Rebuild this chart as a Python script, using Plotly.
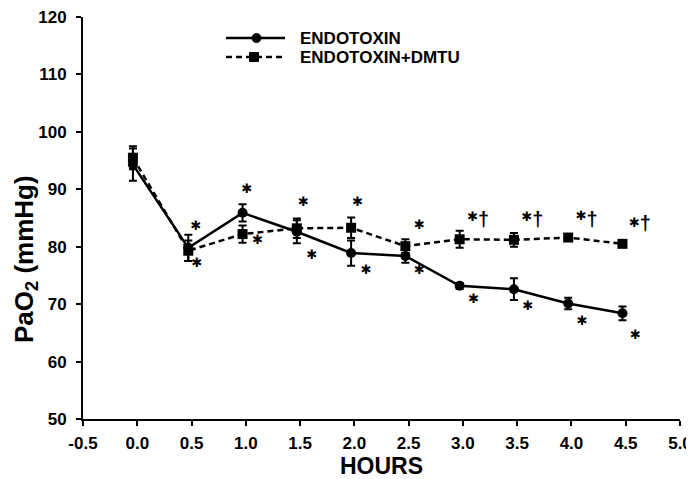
import plotly.graph_objects as go

# ---- data ----
hours = [-0.04, 0.47, 0.97, 1.47, 1.97, 2.47, 2.97, 3.47, 3.97, 4.47]
endotoxin = [94.3, 79.8, 85.9, 82.6, 78.9, 78.4, 73.2, 72.6, 70.1, 68.4]
endotoxin_err = [2.8, 2.3, 1.5, 2.0, 2.2, 1.2, 0.5, 1.9, 1.0, 1.2]
dmtu = [95.5, 79.3, 82.2, 83.2, 83.3, 80.1, 81.3, 81.2, 81.6, 80.5]
dmtu_err = [2.0, 1.8, 1.5, 1.7, 1.8, 1.2, 1.5, 1.2, 0.4, 0.4]

# significance markers (asterisks) and daggers
star_x = [0.54, 0.55, 1.01, 1.11, 1.53, 1.61, 2.03, 2.11, 2.60, 2.60,
          3.09, 3.10, 3.59, 3.60, 4.09, 4.10, 4.58, 4.59]
star_y = [83.5, 77.0, 90.0, 81.0, 87.6, 78.4, 87.7, 75.9, 83.7, 75.9,
          85.0, 70.7, 85.0, 69.5, 85.2, 66.9, 84.0, 64.5]
dag_x = [3.19, 3.69, 4.19, 4.68]
dag_y = [84.4, 84.4, 84.5, 83.7]

x_ticks = [-0.5, 0.0, 0.5, 1.0, 1.5, 2.0, 2.5, 3.0, 3.5, 4.0, 4.5, 5.0]
y_ticks = [50, 60, 70, 80, 90, 100, 110, 120]
series_names = ["ENDOTOXIN", "ENDOTOXIN+DMTU"]
x_title = "HOURS"
y_title = "PaO<sub>2</sub> (mmHg)"

FONT = "Liberation Sans, Arial, sans-serif"

fig = go.Figure()
fig.add_trace(go.Scatter(
    x=hours, y=dmtu, name=series_names[1], mode="lines+markers",
    line=dict(color="black", width=2.5, dash="6px,4px"),
    marker=dict(symbol="square", size=10, color="black"),
    error_y=dict(type="data", array=dmtu_err, color="black", thickness=2, width=4),
    showlegend=False))
fig.add_trace(go.Scatter(
    x=hours, y=endotoxin, name=series_names[0], mode="lines+markers",
    line=dict(color="black", width=2.5),
    marker=dict(symbol="circle", size=10, color="black"),
    error_y=dict(type="data", array=endotoxin_err, color="black", thickness=2, width=4),
    showlegend=False))
fig.add_trace(go.Scatter(
    x=star_x, y=star_y, mode="text", text=["✱"] * len(star_x),
    textfont=dict(family="DejaVu Sans", size=13, color="black"),
    showlegend=False, hoverinfo="skip"))
fig.add_trace(go.Scatter(
    x=dag_x, y=dag_y, mode="text", text=["†"] * len(dag_x),
    textfont=dict(family=FONT, size=20, color="black", weight="bold"),
    showlegend=False, hoverinfo="skip"))

# ---- layout geometry in screen pixels (page has an 8px body margin) ----
OFF = 8
W, H = 694, 479
L, R, T, B = 83, 680, 17, 419  # plot area edges on screen
def px(x):
    return (x - L) / (R - L)
def py(y):
    return (B - y) / (B - T)

shapes = [
    dict(type="line", xref="paper", yref="paper", x0=px(226), x1=px(285), y0=py(38), y1=py(38),
         line=dict(color="black", width=2.5)),
    dict(type="line", xref="paper", yref="paper", x0=px(226), x1=px(285), y0=py(57), y1=py(57),
         line=dict(color="black", width=2.5, dash="6px,4px")),
    dict(type="circle", xref="paper", yref="paper", x0=px(252), x1=px(261), y0=py(42.5), y1=py(33.5),
         fillcolor="black", line=dict(color="black", width=1)),
    dict(type="rect", xref="paper", yref="paper", x0=px(249.5), x1=px(258.5), y0=py(61.5), y1=py(52.5),
         fillcolor="black", line=dict(color="black", width=1)),
]
annotations = [
    dict(xref="paper", yref="paper", x=px(298), y=py(38), text=series_names[0], showarrow=False,
         xanchor="left", yanchor="middle", font=dict(family=FONT, size=17, color="black", weight="bold")),
    dict(xref="paper", yref="paper", x=px(298), y=py(57), text=series_names[1], showarrow=False,
         xanchor="left", yanchor="middle", font=dict(family=FONT, size=17, color="black", weight="bold")),
    dict(xref="paper", yref="paper", x=px(25), y=py(259), text=y_title, showarrow=False, textangle=-90,
         xanchor="center", yanchor="middle", font=dict(family=FONT, size=26, color="black", weight="bold")),
]

fig.update_layout(
    width=W - OFF, height=H - OFF,
    margin=dict(l=L - OFF, r=W - R, t=T - OFF, b=H - B, autoexpand=False),
    paper_bgcolor="white", plot_bgcolor="white",
    shapes=shapes, annotations=annotations,
    font=dict(family=FONT, color="black"),
    xaxis=dict(
        range=[-0.5, 5.0], tickvals=x_ticks, ticktext=[f"{v:.1f}" for v in x_ticks],
        showgrid=False, zeroline=False, showline=True, linecolor="black", linewidth=2,
        ticks="outside", ticklen=5, tickwidth=2, tickcolor="black", automargin=False,
        ticklabelstandoff=3, ticklabeloverflow="allow",
        tickfont=dict(family=FONT, size=17, color="black", weight="bold"),
        title=dict(text=x_title, font=dict(family=FONT, size=23, color="black", weight="bold"), standoff=10),
    ),
    yaxis=dict(
        range=[50, 120], tickvals=y_ticks, showgrid=False, zeroline=False,
        showline=True, linecolor="black", linewidth=2, automargin=False,
        ticks="outside", ticklen=5, tickwidth=2, tickcolor="black",
        ticklabelstandoff=6, ticklabeloverflow="allow",
        tickfont=dict(family=FONT, size=17, color="black", weight="bold"),
    ),
)

fig.write_html("out.html")
